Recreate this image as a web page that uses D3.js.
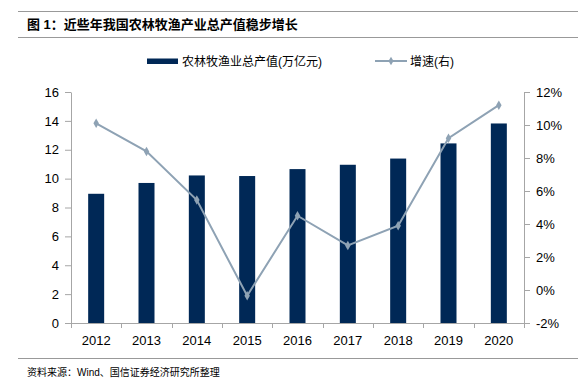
<!DOCTYPE html>
<html>
<head>
<meta charset="utf-8">
<script src="https://cdn.jsdelivr.net/npm/d3@7"></script>
<style>
  body { margin: 0; background: #fff; }
  text { font-family: "Liberation Sans", Arial, "Noto Sans CJK SC", sans-serif; }
  .cjk { font-family: "Liberation Sans", "Noto Sans CJK SC", sans-serif; }
</style>
</head>
<body>
<script>
// data
var years = ["2012", "2013", "2014", "2015", "2016", "2017", "2018", "2019", "2020"];
var output = [8.95, 9.7, 10.22, 10.18, 10.66, 10.96, 11.39, 12.44, 13.82]; // 万亿元
var growth = [10.1, 8.4, 5.45, -0.35, 4.5, 2.7, 3.9, 9.2, 11.2];           // %
var leftTicks = [0, 2, 4, 6, 8, 10, 12, 14, 16];
var rightTicks = [-2, 0, 2, 4, 6, 8, 10, 12];

window.onload = function(){
    var w = 578, h = 387;
    var barColor = "#002856", lineColor = "#8EA2B4", axisColor = "#a6a6a6";

    var svg = d3.select("body").append("svg")
        .attr("width", w)
        .attr("height", h);

    // header rules + title
    svg.append("line").attr("x1", 18).attr("x2", w).attr("y1", 11.5).attr("y2", 11.5)
        .style("stroke", "#999");
    svg.append("line").attr("x1", 18).attr("x2", w).attr("y1", 37.5).attr("y2", 37.5)
        .style("stroke", "#999");
    svg.append("text")
        .attr("class", "cjk")
        .attr("x", 27).attr("y", 29)
        .style("font-size", "13px").style("font-weight", "bold")
        .text("图 1：近些年我国农林牧渔产业总产值稳步增长");

    // scales
    var x = d3.scaleBand().domain(years).range([71, 524]);
    var yL = d3.scaleLinear().domain([0, 16]).range([323, 92]);
    var yR = d3.scaleLinear().domain([-2, 12]).range([323, 92]);

    // y axes
    var leftAxis = svg.append("g")
        .attr("transform", "translate(71,0)")
        .call(d3.axisLeft(yL).tickValues(leftTicks).tickSize(6).tickSizeOuter(0).tickPadding(6));
    var rightAxis = svg.append("g")
        .attr("transform", "translate(524,0)")
        .call(d3.axisRight(yR).tickValues(rightTicks).tickSize(6).tickSizeOuter(0).tickPadding(6)
            .tickFormat(function(d){ return d + "%"; }));
    [leftAxis, rightAxis].forEach(function(a){
        a.selectAll(".domain, line").style("stroke", axisColor);
        a.selectAll("text").style("font-size", "13px").style("fill", "#000");
    });

    // x axis: ticks at band edges
    var xg = svg.append("g").attr("transform", "translate(0,323)");
    xg.append("line").attr("x1", 71).attr("x2", 524).attr("y1", 0.5).attr("y2", 0.5)
        .style("stroke", axisColor);
    xg.selectAll(".xt")
        .data(years.concat(["end"]))
        .enter().append("line")
        .attr("class", "xt")
        .attr("x1", function(d, i){ return Math.round(71 + i * x.step()) + 0.5; })
        .attr("x2", function(d, i){ return Math.round(71 + i * x.step()) + 0.5; })
        .attr("y1", 0).attr("y2", 5)
        .style("stroke", axisColor);
    xg.selectAll(".xl")
        .data(years)
        .enter().append("text")
        .attr("class", "xl")
        .attr("x", function(d){ return x(d) + x.bandwidth() / 2; })
        .attr("y", 22)
        .attr("text-anchor", "middle")
        .style("font-size", "13px")
        .text(function(d){ return d; });

    // bars
    var bw = 16;
    svg.selectAll(".bar")
        .data(output)
        .enter().append("rect")
        .attr("class", "bar")
        .attr("x", function(d, i){ return x(years[i]) + x.bandwidth() / 2 - bw / 2; })
        .attr("y", function(d){ return yL(d); })
        .attr("width", bw)
        .attr("height", function(d){ return yL(0) - yL(d); })
        .style("fill", barColor);

    // growth line
    var line = d3.line()
        .x(function(d, i){ return x(years[i]) + x.bandwidth() / 2; })
        .y(function(d){ return yR(d); });
    svg.append("path")
        .datum(growth)
        .attr("d", line)
        .style("fill", "none")
        .style("stroke", lineColor)
        .style("stroke-width", 2);
    svg.selectAll(".pt")
        .data(growth)
        .enter().append("path")
        .attr("class", "pt")
        .attr("d", d3.symbol().type(d3.symbolDiamond).size(26))
        .attr("transform", function(d, i){
            return "translate(" + (x(years[i]) + x.bandwidth() / 2) + "," + yR(d) + ")";
        })
        .style("fill", lineColor);

    // legend
    var lg = svg.append("g");
    lg.append("rect").attr("x", 147).attr("y", 58.5).attr("width", 31).attr("height", 5.5)
        .style("fill", barColor);
    lg.append("text").attr("class", "cjk").attr("x", 182).attr("y", 66)
        .style("font-size", "12px").text("农林牧渔业总产值(万亿元)");
    lg.append("line").attr("x1", 375).attr("x2", 407).attr("y1", 61).attr("y2", 61)
        .style("stroke", lineColor).style("stroke-width", 2);
    lg.append("path")
        .attr("d", d3.symbol().type(d3.symbolDiamond).size(22))
        .attr("transform", "translate(391,61)")
        .style("fill", lineColor);
    lg.append("text").attr("class", "cjk").attr("x", 410).attr("y", 66)
        .style("font-size", "12px").text("增速(右)");

    // footer
    svg.append("line").attr("x1", 18).attr("x2", w).attr("y1", 358.5).attr("y2", 358.5)
        .style("stroke", "#999");
    svg.append("text").attr("class", "cjk").attr("x", 27).attr("y", 376)
        .style("font-size", "10px")
        .text("资料来源：Wind、国信证券经济研究所整理");
};
</script>
</body>
</html>
